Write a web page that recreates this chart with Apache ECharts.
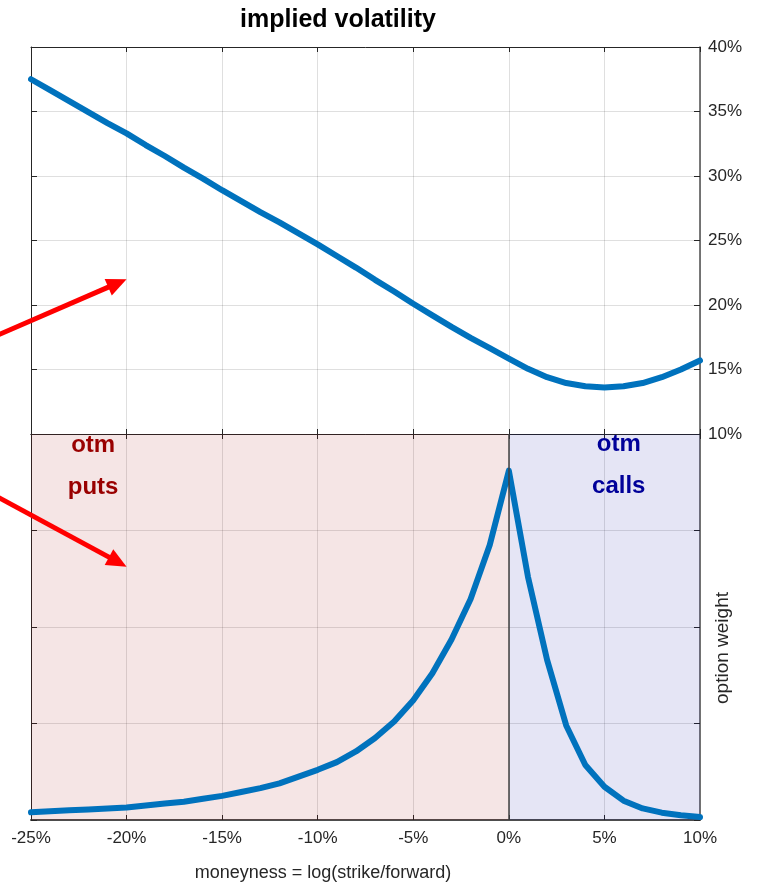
<!DOCTYPE html>
<html>
<head>
<meta charset="utf-8">
<script src="https://cdn.jsdelivr.net/npm/echarts@6/dist/echarts.min.js"></script>
<style>
  html, body { margin: 0; padding: 0; background: #ffffff; }
  #chart { width: 759px; height: 893px; }
</style>
</head>
<body>
<div id="chart"></div>
<script>
// Log-moneyness grid, in percent
const moneyness = [-25, -24, -23, -22, -21, -20, -19, -18, -17, -16, -15, -14, -13, -12, -11,
                   -10, -9, -8, -7, -6, -5, -4, -3, -2, -1, 0, 1, 2, 3, 4, 5, 6, 7, 8, 9, 10];

// Implied volatility smile, in percent
const impliedVol = [37.5, 36.65, 35.8, 34.95, 34.1, 33.3, 32.4, 31.55, 30.65, 29.8, 28.9, 28.05,
                    27.2, 26.4, 25.55, 24.7, 23.8, 22.9, 21.95, 21.05, 20.1, 19.2, 18.3, 17.45,
                    16.65, 15.85, 15.05, 14.4, 13.95, 13.7, 13.6, 13.7, 13.95, 14.4, 15.0, 15.7];

// Weight given to each out-of-the-money option
const optionWeight = [0.08, 0.09, 0.10, 0.11, 0.12, 0.13, 0.15, 0.17, 0.19, 0.22, 0.25, 0.29,
                      0.33, 0.38, 0.45, 0.52, 0.60, 0.71, 0.85, 1.02, 1.24, 1.52, 1.87, 2.29,
                      2.85, 3.62, 2.52, 1.66, 0.98, 0.57, 0.345, 0.20, 0.12, 0.076, 0.05, 0.03];

// Tick values
const moneynessTicks = [-25, -20, -15, -10, -5, 0, 5, 10];
const volTicks = [10, 15, 20, 25, 30, 35, 40];
const weightTicks = [0, 1, 2, 3, 4];

// Shaded regions: out-of-the-money puts and calls
const putsRange = [-25, 0];
const callsRange = [0, 10];
const splitAt = 0;

const FONT = "'Liberation Sans', Arial, Helvetica, sans-serif";
const INK = '#262626';
const LINE_BLUE = '#0072BD';
const GRID_LINE = 'rgba(38,38,38,0.15)';

const chart = echarts.init(document.getElementById('chart'), null, { renderer: 'canvas' });

const xMin = moneynessTicks[0], xMax = moneynessTicks[moneynessTicks.length - 1];
const xStep = moneynessTicks[1] - moneynessTicks[0];
const vMin = volTicks[0], vMax = volTicks[volTicks.length - 1], vStep = volTicks[1] - volTicks[0];
const wMin = weightTicks[0], wMax = weightTicks[weightTicks.length - 1], wStep = weightTicks[1] - weightTicks[0];

function xAx(grid, pos, opts) {
  return Object.assign({
    type: 'value', gridIndex: grid, position: pos,
    min: xMin, max: xMax, interval: xStep,
    axisLine: { show: true, onZero: false, lineStyle: { color: INK, width: 1 } },
    axisTick: { show: true, inside: true, length: 5, lineStyle: { color: INK, width: 1 } },
    axisLabel: { show: false },
    splitLine: { show: false }
  }, opts || {});
}
function yAx(grid, pos, lo, hi, step, opts) {
  return Object.assign({
    type: 'value', gridIndex: grid, position: pos,
    min: lo, max: hi, interval: step,
    axisLine: { show: true, onZero: false, lineStyle: { color: INK, width: 1 } },
    axisTick: { show: true, inside: true, length: 6, lineStyle: { color: INK, width: 1 } },
    axisLabel: { show: false },
    splitLine: { show: false }
  }, opts || {});
}

const option = {
  animation: false,
  backgroundColor: '#ffffff',
  textStyle: { fontFamily: FONT },
  grid: [
    { left: 31, right: 59, top: 47, height: 387 },
    { left: 31, right: 59, top: 434, height: 386 }
  ],
  xAxis: [
    xAx(0, 'bottom', { splitLine: { show: true, lineStyle: { color: GRID_LINE, width: 1 } } }),
    xAx(0, 'top'),
    xAx(1, 'bottom', {
      axisLine: { show: true, onZero: false, lineStyle: { color: '#4d4d4d', width: 2 } },
      axisLabel: { show: true, margin: 10, color: INK, fontSize: 17, fontFamily: FONT,
                   formatter: v => v + '%' },
      splitLine: { show: true, lineStyle: { color: GRID_LINE, width: 1 } }
    }),
    xAx(1, 'top')
  ],
  yAxis: [
    yAx(0, 'left', vMin, vMax, vStep, { splitLine: { show: true, lineStyle: { color: GRID_LINE, width: 1 } } }),
    yAx(0, 'right', vMin, vMax, vStep, {
      axisLine: { show: true, onZero: false, lineStyle: { color: '#4d4d4d', width: 1.5 } },
      axisLabel: { show: true, margin: 8, color: INK, fontSize: 17, fontFamily: FONT,
                   formatter: v => v + '%' }
    }),
    yAx(1, 'left', wMin, wMax, wStep, { splitLine: { show: true, lineStyle: { color: GRID_LINE, width: 1 } } }),
    yAx(1, 'right', wMin, wMax, wStep, {
      axisLine: { show: true, onZero: false, lineStyle: { color: '#4d4d4d', width: 1.5 } }
    })
  ],
  series: [
    {
      name: 'implied volatility', type: 'line', xAxisIndex: 0, yAxisIndex: 0,
      data: moneyness.map((m, i) => [m, impliedVol[i]]),
      showSymbol: false, symbol: 'none', z: 2,
      lineStyle: { color: LINE_BLUE, width: 6, cap: 'round', join: 'round' }
    },
    {
      name: 'option weight', type: 'line', xAxisIndex: 2, yAxisIndex: 2,
      data: moneyness.map((m, i) => [m, optionWeight[i]]),
      showSymbol: false, symbol: 'none', z: 2,
      lineStyle: { color: LINE_BLUE, width: 6, cap: 'round', join: 'round' }
    },
    {
      // translucent otm put / call regions laid over the weight curve
      name: 'regions', type: 'line', xAxisIndex: 2, yAxisIndex: 2,
      data: [[splitAt, wMin]], showSymbol: false, symbol: 'none', z: 4,
      lineStyle: { opacity: 0 },
      markArea: {
        silent: true,
        data: [
          [{ xAxis: putsRange[0], itemStyle: { color: 'rgba(153,0,0,0.1)' } }, { xAxis: putsRange[1] }],
          [{ xAxis: callsRange[0], itemStyle: { color: 'rgba(0,0,153,0.1)' } }, { xAxis: callsRange[1] }]
        ]
      },
      markLine: {
        silent: true, symbol: ['none', 'none'], label: { show: false },
        lineStyle: { color: '#404040', width: 1.5, type: 'solid' },
        data: [{ xAxis: splitAt }]
      }
    }
  ]
};

chart.setOption(option);

// Annotations placed in data coordinates
const arrows = [
  { grid: 0, from: [-27.7, 17.05], to: [-20, 22.0] },
  { grid: 1, from: [-27.7, 3.45], to: [-20, 2.625] }
];
const regionLabels = [
  { text: 'otm\nputs', at: [-21.75, 3.66], color: '#990000' },
  { text: 'otm\ncalls', at: [5.75, 3.68], color: '#000099' }
];

const px = (grid, p) => chart.convertToPixel({ gridIndex: grid }, p);
const graphics = [];

arrows.forEach(a => {
  const p0 = px(a.grid, a.from), p1 = px(a.grid, a.to);
  const dx = p1[0] - p0[0], dy = p1[1] - p0[1];
  const len = Math.hypot(dx, dy), ux = dx / len, uy = dy / len;
  const headLen = 20, headHalf = 9;
  const bx = p1[0] - ux * headLen, by = p1[1] - uy * headLen;
  graphics.push({
    type: 'line', z: 100,
    shape: { x1: p0[0], y1: p0[1], x2: bx + ux * 2, y2: by + uy * 2 },
    style: { stroke: '#ff0000', lineWidth: 5 }
  });
  graphics.push({
    type: 'polygon', z: 100,
    shape: { points: [[p1[0], p1[1]], [bx - uy * headHalf, by + ux * headHalf], [bx + uy * headHalf, by - ux * headHalf]] },
    style: { fill: '#ff0000' }
  });
});

regionLabels.forEach(l => {
  const p = px(1, l.at);
  graphics.push({
    type: 'text', z: 100, x: p[0], y: p[1],
    style: { text: l.text, fill: l.color, font: 'bold 24px ' + FONT,
             align: 'center', verticalAlign: 'middle', lineHeight: 42 }
  });
});

graphics.push({
  type: 'text', z: 100, x: 338, y: 20,
  style: { text: 'implied volatility', fill: '#000000', font: 'bold 25px ' + FONT,
           align: 'center', verticalAlign: 'middle' }
});
graphics.push({
  type: 'text', z: 100, x: 323, y: 873,
  style: { text: 'moneyness = log(strike/forward)', fill: INK, font: '18px ' + FONT,
           align: 'center', verticalAlign: 'middle' }
});
graphics.push({
  type: 'text', z: 100, x: 723, y: 648, rotation: Math.PI / 2,
  style: { text: 'option weight', fill: INK, font: '19px ' + FONT,
           align: 'center', verticalAlign: 'middle' }
});

chart.setOption({ graphic: graphics });
</script>
</body>
</html>
